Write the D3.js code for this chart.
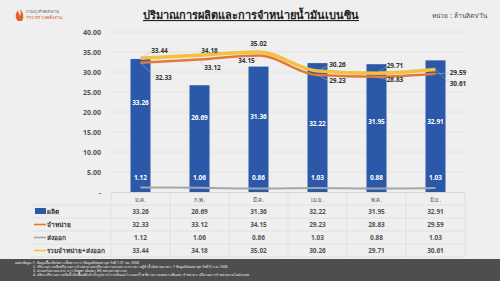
<!DOCTYPE html>
<html>
<head>
<meta charset="utf-8">
<script src="https://cdn.jsdelivr.net/npm/d3@7"></script>
<style>
  html, body { margin: 0; padding: 0; background: #efefef; }
  svg { display: block; font-family: "Noto Sans", "DejaVu Sans", sans-serif; }
</style>
</head>
<body>
<svg></svg>
<script>
'use strict';
// data
var months = ['ม.ค.', 'ก.พ.', 'มี.ค.', 'เม.ย.', 'พ.ค.', 'มิ.ย.'];
var produce = [33.26, 26.69, 31.36, 32.22, 31.95, 32.91];
var sales = [32.33, 33.12, 34.15, 29.23, 28.83, 29.59];
var exportQty = [1.12, 1.06, 0.86, 1.03, 0.88, 1.03];
var totalQty = [33.44, 34.18, 35.02, 30.26, 29.71, 30.61];
var yTicks = [0, 5, 10, 15, 20, 25, 30, 35, 40];

var seriesNames = ['ผลิต', 'จำหน่าย', 'ส่งออก', 'รวมจำหน่าย+ส่งออก'];
var seriesColors = ['#2b58a8', '#e2793a', '#a6a6a6', '#f3c03f'];

// where the line value labels sit (pixel offsets from the point)
var totalLabelOff = [[19, -5], [10, -2], [0, -6], [20, -4], [18.5, -5], [22.5, 16]];
var salesLabelOff = [[23, 17], [13, 10], [-12, 8], [20, 8], [18.5, 5], [22.5, 1.5]];
var barLabelAt = [22.5, 18.7, 18.8, 17.1, 17.6, 17.7];

var W = 500, H = 281;
var svg = d3.select('svg').attr('width', W).attr('height', H);

var xScale = d3.scaleBand().domain(months).range([111, 465]).padding(0);
var yScale = d3.scaleLinear().domain([0, 40]).range([192, 32]);
var cx = function(i) { return xScale(months[i]) + xScale.bandwidth() / 2; };
var barW = 20;

// logo
var logo = svg.append('g').attr('transform', 'translate(14,7)');
logo.append('path')
  .attr('d', 'M4,14 C0,10 2,6 4,3 C4,6 6,7 6,9 C7,7 7,5 6,2 C10,6 10,11 8,14 Z')
  .attr('fill', '#e0622a');
logo.append('text').attr('x', 12).attr('y', 6).attr('font-size', 4.2)
  .attr('fill', '#7a5a4a').text('กรมธุรกิจพลังงาน');
logo.append('text').attr('x', 12).attr('y', 12).attr('font-size', 5)
  .attr('fill', '#e0622a').text('กระทรวงพลังงาน');

// title
svg.append('text').attr('x', 251).attr('y', 19)
  .attr('text-anchor', 'middle').attr('font-size', 11).attr('font-weight', 'bold')
  .attr('fill', '#222').attr('text-decoration', 'underline')
  .text('ปริมาณการผลิตและการจำหน่ายน้ำมันเบนซิน');
svg.append('text').attr('x', 487).attr('y', 18)
  .attr('text-anchor', 'end').attr('font-size', 6.5).attr('fill', '#444')
  .text('หน่วย : ล้านลิตร/วัน');

// grid + y axis labels
var grid = svg.append('g');
grid.selectAll('line').data(yTicks.slice(1)).enter().append('line')
  .attr('x1', 111).attr('x2', 465)
  .attr('y1', function(d) { return yScale(d); })
  .attr('y2', function(d) { return yScale(d); })
  .attr('stroke', '#e2e2e2').attr('stroke-width', 0.8);
svg.append('g').selectAll('text').data(yTicks).enter().append('text')
  .attr('x', 101).attr('y', function(d) { return yScale(d) + 2.5; })
  .attr('text-anchor', 'end').attr('font-size', 7).attr('font-weight', 'bold')
  .attr('fill', '#555')
  .text(function(d) { return d === 0 ? '-' : d.toFixed(2); });

// table grid
var rowY = [193, 205, 218, 231, 244, 257];
var tbl = svg.append('g');
tbl.selectAll('.hl').data(rowY.slice(1)).enter().append('line')
  .attr('x1', 30).attr('x2', 465)
  .attr('y1', function(d) { return d; }).attr('y2', function(d) { return d; })
  .attr('stroke', '#dcdcdc').attr('stroke-width', 0.7);
var vx = [111].concat(months.map(function(m) { return xScale(m) + xScale.bandwidth(); }));
tbl.selectAll('.vl').data(vx).enter().append('line')
  .attr('x1', function(d) { return d; }).attr('x2', function(d) { return d; })
  .attr('y1', 193).attr('y2', 257)
  .attr('stroke', '#dcdcdc').attr('stroke-width', 0.7);
svg.append('line').attr('x1', 111).attr('x2', 465).attr('y1', 192.5).attr('y2', 192.5)
  .attr('stroke', '#d0d0d0').attr('stroke-width', 0.8);

// bars
svg.append('g').selectAll('rect').data(produce).enter().append('rect')
  .attr('x', function(d, i) { return cx(i) - barW / 2; })
  .attr('y', function(d) { return yScale(d); })
  .attr('width', barW)
  .attr('height', function(d) { return yScale(0) - yScale(d); })
  .attr('fill', seriesColors[0]);

// lines
var line = d3.line().x(function(d, i) { return cx(i); }).y(function(d) { return yScale(d); })
  .curve(d3.curveMonotoneX);
svg.append('path').datum(exportQty).attr('d', line).attr('fill', 'none')
  .attr('stroke', seriesColors[2]).attr('stroke-width', 2);
svg.append('path').datum(sales).attr('d', line).attr('fill', 'none')
  .attr('stroke', seriesColors[1]).attr('stroke-width', 2.5);
svg.append('path').datum(totalQty).attr('d', line).attr('fill', 'none')
  .attr('stroke', seriesColors[3]).attr('stroke-width', 3.5);

// bar labels
svg.append('g').selectAll('text').data(produce).enter().append('text')
  .attr('x', function(d, i) { return cx(i); })
  .attr('y', function(d, i) { return yScale(barLabelAt[i]) + 2.5; })
  .attr('text-anchor', 'middle').attr('font-size', 6.5).attr('font-weight', 'bold')
  .attr('fill', '#fff').text(function(d) { return d.toFixed(2); });
svg.append('g').selectAll('text').data(exportQty).enter().append('text')
  .attr('x', function(d, i) { return cx(i); })
  .attr('y', 180)
  .attr('text-anchor', 'middle').attr('font-size', 6.5).attr('font-weight', 'bold')
  .attr('fill', '#fff').text(function(d) { return d.toFixed(2); });

// line labels with thin leaders
function lineLabels(vals, offs) {
  var g = svg.append('g');
  vals.forEach(function(v, i) {
    var px = cx(i), py = yScale(v);
    var lx = px + offs[i][0], ly = py + offs[i][1];
    g.append('line').attr('x1', px).attr('y1', py)
      .attr('x2', lx + (offs[i][0] < 0 ? 8 : -8)).attr('y2', ly - 2)
      .attr('stroke', '#bbb').attr('stroke-width', 0.5);
    g.append('text').attr('x', lx).attr('y', ly).attr('text-anchor', 'middle')
      .attr('font-size', 6.5).attr('font-weight', 'bold').attr('fill', '#333')
      .text(v.toFixed(2));
  });
}
lineLabels(totalQty, totalLabelOff);
lineLabels(sales, salesLabelOff);

// table text
svg.append('g').selectAll('text').data(months).enter().append('text')
  .attr('x', function(d) { return xScale(d) + xScale.bandwidth() / 2; })
  .attr('y', 201.5).attr('text-anchor', 'middle').attr('font-size', 6)
  .attr('fill', '#555').text(function(d) { return d; });
var tableRows = [produce, sales, exportQty, totalQty];
tableRows.forEach(function(vals, r) {
  var y = rowY[r + 1] + 9;
  svg.append('g').selectAll('text').data(vals).enter().append('text')
    .attr('x', function(d, i) { return cx(i); }).attr('y', y)
    .attr('text-anchor', 'middle').attr('font-size', 6.5).attr('font-weight', 'bold')
    .attr('fill', '#555').text(function(d) { return d.toFixed(2); });
  if (r === 0) {
    svg.append('rect').attr('x', 35).attr('y', y - 6).attr('width', 11).attr('height', 6)
      .attr('fill', seriesColors[0]);
  } else {
    svg.append('line').attr('x1', 34).attr('x2', 46).attr('y1', y - 2.5).attr('y2', y - 2.5)
      .attr('stroke', seriesColors[r]).attr('stroke-width', 1.6);
  }
  svg.append('text').attr('x', 47).attr('y', y).attr('font-size', 6.5)
    .attr('font-weight', 'bold').attr('fill', '#333').text(seriesNames[r]);
});

// footer
svg.append('rect').attr('x', 0).attr('y', 259).attr('width', W).attr('height', 22)
  .attr('fill', '#4e4e4e');
var notes = [
  '1. ข้อมูลเบื้องต้น (อย่างเป็นทางการ) ข้อมูลอัปเดตล่าสุด วันที่ 1-31 ก.ค. 2568',
  '2. ปริมาณการผลิต ปริมาณการจำหน่าย และปริมาณการส่งออก จากรายงานผู้ค้าน้ำมันตามมาตรา 7 ข้อมูลอัปเดตล่าสุด วันที่ 31 ก.ค. 2568',
  '3. ส่งออกไม่รวม ส.ป.ป. ลาว กัมพูชา เมียนมา ที่จำหน่ายผ่านทางบก',
  '4. ผลิต = ปริมาณการผลิตน้ำมันเชื้อเพลิงสำเร็จรูปจากโรงกลั่นและโรงแยกก๊าซ ที่ผ่านการผสมสารเติมแต่ง จำหน่าย = ปริมาณการจำหน่ายภายในประเทศ'
];
svg.append('text').attr('x', 15).attr('y', 264).attr('font-size', 3.3).attr('fill', '#eee')
  .text('แหล่งข้อมูล :');
svg.append('g').selectAll('text').data(notes).enter().append('text')
  .attr('x', 33).attr('y', function(d, i) { return 264 + i * 4; })
  .attr('font-size', 3.3).attr('fill', '#eee').text(function(d) { return d; });
</script>
</body>
</html>
